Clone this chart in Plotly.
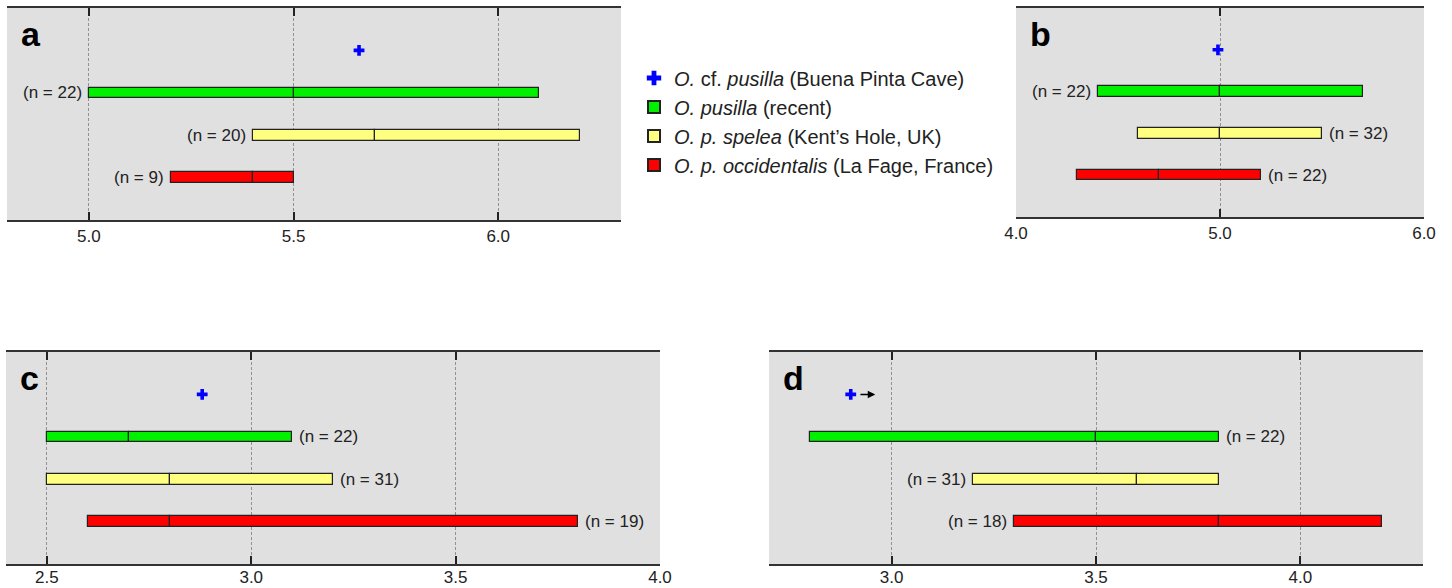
import plotly.graph_objects as go

W, H = 1452, 588

panels = ["a", "b", "c", "d"]
x_ranges = [[4.8, 6.3], [4.0, 6.0], [2.4, 4.0], [2.7, 4.3]]
x_ticks = [[5.0, 5.5, 6.0], [4.0, 5.0, 6.0], [2.5, 3.0, 3.5, 4.0], [3.0, 3.5, 4.0]]

species_html = ["<i>O. pusilla</i> (recent)",
                "<i>O. p. spelea</i> (Kent’s Hole, UK)",
                "<i>O. p. occidentalis</i> (La Fage, France)"]
fossil_name = "<i>O.</i> cf. <i>pusilla</i> (Buena Pinta Cave)"
colors = ["#00f000", "#ffff80", "#ff0000"]

# per panel values (a, b, c, d)
green_min = [5.0, 4.4, 2.5, 2.8]
green_med = [5.5, 5.0, 2.7, 3.5]
green_max = [6.1, 5.7, 3.1, 3.8]
green_n = [22, 22, 22, 22]
green_side = ["left", "left", "right", "right"]

yellow_min = [5.4, 4.6, 2.5, 3.2]
yellow_med = [5.7, 5.0, 2.8, 3.6]
yellow_max = [6.2, 5.5, 3.2, 3.8]
yellow_n = [20, 32, 31, 31]
yellow_side = ["left", "right", "right", "left"]

red_min = [5.2, 4.3, 2.6, 3.3]
red_med = [5.4, 4.7, 2.8, 3.8]
red_max = [5.5, 5.2, 3.8, 4.2]
red_n = [9, 22, 19, 18]
red_side = ["left", "right", "right", "left"]

fossil = [5.66, 4.99, 2.88, 2.9]

mins = [green_min, yellow_min, red_min]
meds = [green_med, yellow_med, red_med]
maxs = [green_max, yellow_max, red_max]
ns = [green_n, yellow_n, red_n]
sides = [green_side, yellow_side, red_side]
rows = [3, 2, 1]
fossil_row = 4

# panel boxes in pixels: left, right, top, bottom
boxes = [(7, 621, 8, 220), (1016, 1424, 8, 217), (6, 660, 352, 564), (769, 1423, 352, 564)]
label_standoff = [0, 0, -3, -3]

fig = go.Figure()
FONT = "Liberation Sans, Arial, sans-serif"

for p in range(4):
    xa = "x" if p == 0 else f"x{p+1}"
    ya = "y" if p == 0 else f"y{p+1}"
    l, r, t, b = boxes[p]
    xkey = "xaxis" if p == 0 else f"xaxis{p+1}"
    ykey = "yaxis" if p == 0 else f"yaxis{p+1}"
    fig.layout[xkey] = dict(
        domain=[l / W, r / W], range=x_ranges[p], tickvals=x_ticks[p],
        ticktext=[f"{v:.1f}" for v in x_ticks[p]],
        showgrid=True, gridcolor="#909090", griddash="3px,2px", gridwidth=1,
        showline=True, linecolor="#333333", linewidth=2, mirror="ticks",
        ticks="inside", ticklen=8, tickwidth=1.5, tickcolor="#222222",
        tickfont=dict(family=FONT, size=17, color="#222222"),
        ticklabelstandoff=label_standoff[p],
        zeroline=False, anchor=ya, fixedrange=True, automargin=False,
    )
    fig.layout[ykey] = dict(
        domain=[1 - b / H, 1 - t / H], range=[0, 5], showgrid=False,
        showline=False, showticklabels=False, ticks="", zeroline=False,
        anchor=xa, fixedrange=True, automargin=False,
    )
    # fossil marker
    fig.add_trace(go.Scatter(
        x=[fossil[p]], y=[fossil_row], mode="markers", xaxis=xa, yaxis=ya,
        marker=dict(symbol="cross", size=9, line=dict(width=0), color="#0000ff"),
        name=fossil_name, showlegend=(p == 0), legendgroup="fossil",
    ))
    for s in range(3):
        mn, md, mx = mins[s][p], meds[s][p], maxs[s][p]
        fig.add_trace(go.Bar(
            y=[rows[s], rows[s]], base=[mn, md], x=[md - mn, mx - md], orientation="h",
            width=0.25, xaxis=xa, yaxis=ya,
            marker=dict(color=colors[s], line=dict(color="#222222", width=1.2)),
            name=species_html[s], showlegend=(p == 0), legendgroup=f"sp{s}",
        ))
        side = sides[s][p]
        fig.add_annotation(
            x=mn if side == "left" else mx, y=rows[s], xref=xa, yref=ya,
            text=f"(n = {ns[s][p]})", showarrow=False,
            xanchor="right" if side == "left" else "left",
            xshift=-5 if side == "left" else 5,
            font=dict(family=FONT, size=17, color="#222222"),
        )
    fig.add_annotation(
        x=(l + 12) / W, y=1 - (t + 26) / H, xref="paper", yref="paper",
        text=f"<b>{panels[p]}</b>", showarrow=False, xanchor="left", yanchor="middle",
        font=dict(family=FONT, size=34, color="#000000"),
    )

# arrow in panel d pointing right from the fossil marker
fig.add_annotation(
    x=fossil[3] + 0.06, y=fossil_row, ax=fossil[3] + 0.02, ay=fossil_row,
    xref="x4", yref="y4", axref="x4", ayref="y4", text="", showarrow=True,
    arrowhead=2, arrowsize=1, arrowwidth=1.5, arrowcolor="#000000",
)

fig.update_layout(
    width=W, height=H, margin=dict(l=0, r=0, t=0, b=0, autoexpand=False),
    paper_bgcolor="#ffffff", plot_bgcolor="#e0e0e0",
    barmode="overlay", bargap=0,
    showlegend=True,
    legend=dict(x=634 / W, y=1 - 58.5 / H, xanchor="left", yanchor="top",
                font=dict(family=FONT, size=20, color="#222222"),
                bgcolor="rgba(0,0,0,0)", tracegroupgap=0, itemsizing="constant"),
    font=dict(family=FONT),
)

post = ("document.body.style.margin='0';document.body.style.overflow='hidden';"
        "var gd=document.getElementById('{plot_id}');"
        "Plotly.relayout(gd,{width:%d,height:%d});" % (W, H))
fig.write_html("out.html", config={"responsive": False, "displayModeBar": False},
               post_script=post)
